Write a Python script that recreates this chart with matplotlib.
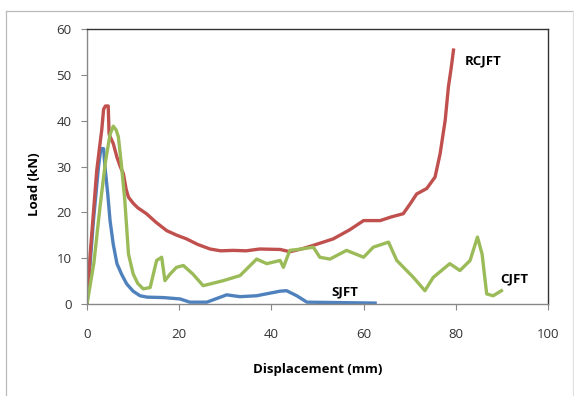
import matplotlib
matplotlib.use("Agg")
import matplotlib.pyplot as plt
from matplotlib.lines import Line2D

# Data
rc_x = [0, 0.7, 1.4, 2.1, 2.7, 3.2, 3.6, 4.0, 4.6, 4.8, 5.7, 6.5, 7.2, 7.9, 8.5, 9.0, 10.0,
        11.0, 12.9, 15.0, 17.3, 19.5, 21.6, 24.0, 26.7, 29.0, 31.7, 34.5, 37.5, 41.9, 44.0,
        46.5, 49.1, 53.4, 57.0, 60.0, 63.6, 66.0, 68.6, 70.2, 71.5, 73.7, 75.5, 76.6, 77.7,
        78.4, 79.0, 79.5]
rc_y = [0, 11, 20, 29, 34, 38, 42.5, 43.2, 43.2, 37, 35, 32, 30, 28.4, 25, 23.3, 22.0,
        21.0, 19.7, 17.8, 16.0, 15.0, 14.2, 13.0, 12.0, 11.6, 11.7, 11.6, 12.0, 11.9, 11.4,
        12.0, 12.8, 14.2, 16.2, 18.2, 18.2, 19.0, 19.7, 22.0, 24.0, 25.2, 27.7, 32.8, 40.1,
        47.4, 51.5, 55.4]

cj_x = [0, 1.5, 2.8, 4.0, 5.0, 5.7, 6.3, 6.8, 7.5, 8.2, 9.0, 10.0, 11.0, 12.2, 13.7, 15.1,
        16.2, 16.9, 18.0, 19.4, 20.9, 23.0, 25.2, 29.6, 33.2, 35.0, 36.8, 39.0, 41.9, 42.6,
        44.0, 46.5, 49.1, 50.5, 52.7, 56.3, 60.0, 62.1, 65.4, 67.2, 70.8, 73.3, 75.1, 78.7,
        80.9, 83.1, 84.7, 85.7, 86.7, 88.1, 89.9]
cj_y = [0, 9, 21, 31, 37, 38.8, 38.0, 36.5, 30, 22.6, 10.9, 6.6, 4.5, 3.3, 3.6, 9.5,
        10.2, 5.1, 6.5, 8.0, 8.4, 6.5, 4.0, 5.1, 6.2, 8.0, 9.8, 8.8, 9.5, 8.0,
        11.7, 12.0, 12.4, 10.2, 9.8, 11.7, 10.2, 12.4, 13.5, 9.5, 5.8, 2.9, 5.8, 8.8,
        7.3, 9.5, 14.6, 10.9, 2.2, 1.8, 2.9]

sj_x = [0, 1.4, 2.5, 3.0, 3.6, 3.9, 4.5, 5.0, 5.7, 6.5, 7.5, 8.6, 10.0, 11.5, 13.0, 16.6,
        20.2, 22.3, 26.0, 30.3, 33.2, 36.8, 41.9, 43.3, 45.5, 47.7, 55.0, 62.5]
sj_y = [0, 18.2, 30, 33.9, 33.9, 29.9, 24.0, 18.2, 13.0, 8.8, 6.5, 4.4, 2.8, 1.8, 1.5, 1.4,
        1.1, 0.4, 0.4, 2.0, 1.6, 1.8, 2.8, 2.9, 1.8, 0.4, 0.3, 0.2]

x_ticks = [0, 20, 40, 60, 80, 100]
y_ticks = [0, 10, 20, 30, 40, 50, 60]

FONT = ["Open Sans", "DejaVu Sans"]

fig = plt.figure(figsize=(5.74, 3.96), dpi=100)
ax = fig.add_axes([87/574, 1-304/396, (548-87)/574, (304-29)/396])

lw = 2.4
ax.plot(sj_x, sj_y, color="#4F81BD", lw=lw, solid_joinstyle="round")
ax.plot(rc_x, rc_y, color="#C0504D", lw=lw, solid_joinstyle="round")
ax.plot(cj_x, cj_y, color="#9BBB59", lw=lw, solid_joinstyle="round")

ax.set_xlim(0, 100)
ax.set_ylim(0, 60)
ax.set_xticks(x_ticks)
ax.set_yticks(y_ticks)
ax.tick_params(direction="out", length=4, width=0.8, color="#888888",
               labelsize=9.5, labelcolor="#333333")
for lab in ax.get_xticklabels() + ax.get_yticklabels():
    lab.set_family(FONT)
ax.tick_params(axis="x", pad=13)
ax.tick_params(axis="y", pad=7)

for s in ["top", "right"]:
    ax.spines[s].set_color("#333333")
    ax.spines[s].set_linewidth(1.0)
for s in ["left", "bottom"]:
    ax.spines[s].set_color("#888888")
    ax.spines[s].set_linewidth(1.0)

ax.text(82, 53, "RCJFT", fontsize=9.5, fontweight="bold", family=FONT, va="center", ha="left")
ax.text(89.6, 5.5, "CJFT", fontsize=9.5, fontweight="bold", family=FONT, va="center", ha="left")
ax.text(53.1, 2.6, "SJFT", fontsize=9.5, fontweight="bold", family=FONT, va="center", ha="left")

fig.text(317.5/574, 1-370/396, "Displacement (mm)", fontsize=9.5, fontweight="bold",
         family=FONT, ha="center", va="center")
fig.text(35/574, 1-184/396, "Load (kN)", fontsize=9.5, fontweight="bold",
         family=FONT, ha="center", va="center", rotation=90)

# outer chart frame
fc = "#BBBBBB"
fig.add_artist(Line2D([5.5/574, 5.5/574], [0, 1-10.5/396], transform=fig.transFigure, color=fc, lw=0.9))
fig.add_artist(Line2D([5.5/574, 572.5/574], [1-10.5/396, 1-10.5/396], transform=fig.transFigure, color=fc, lw=0.9))
fig.add_artist(Line2D([572.5/574, 572.5/574], [0, 1-10.5/396], transform=fig.transFigure, color="#E0E0E0", lw=0.9))

fig.savefig("out.png", dpi=100)
